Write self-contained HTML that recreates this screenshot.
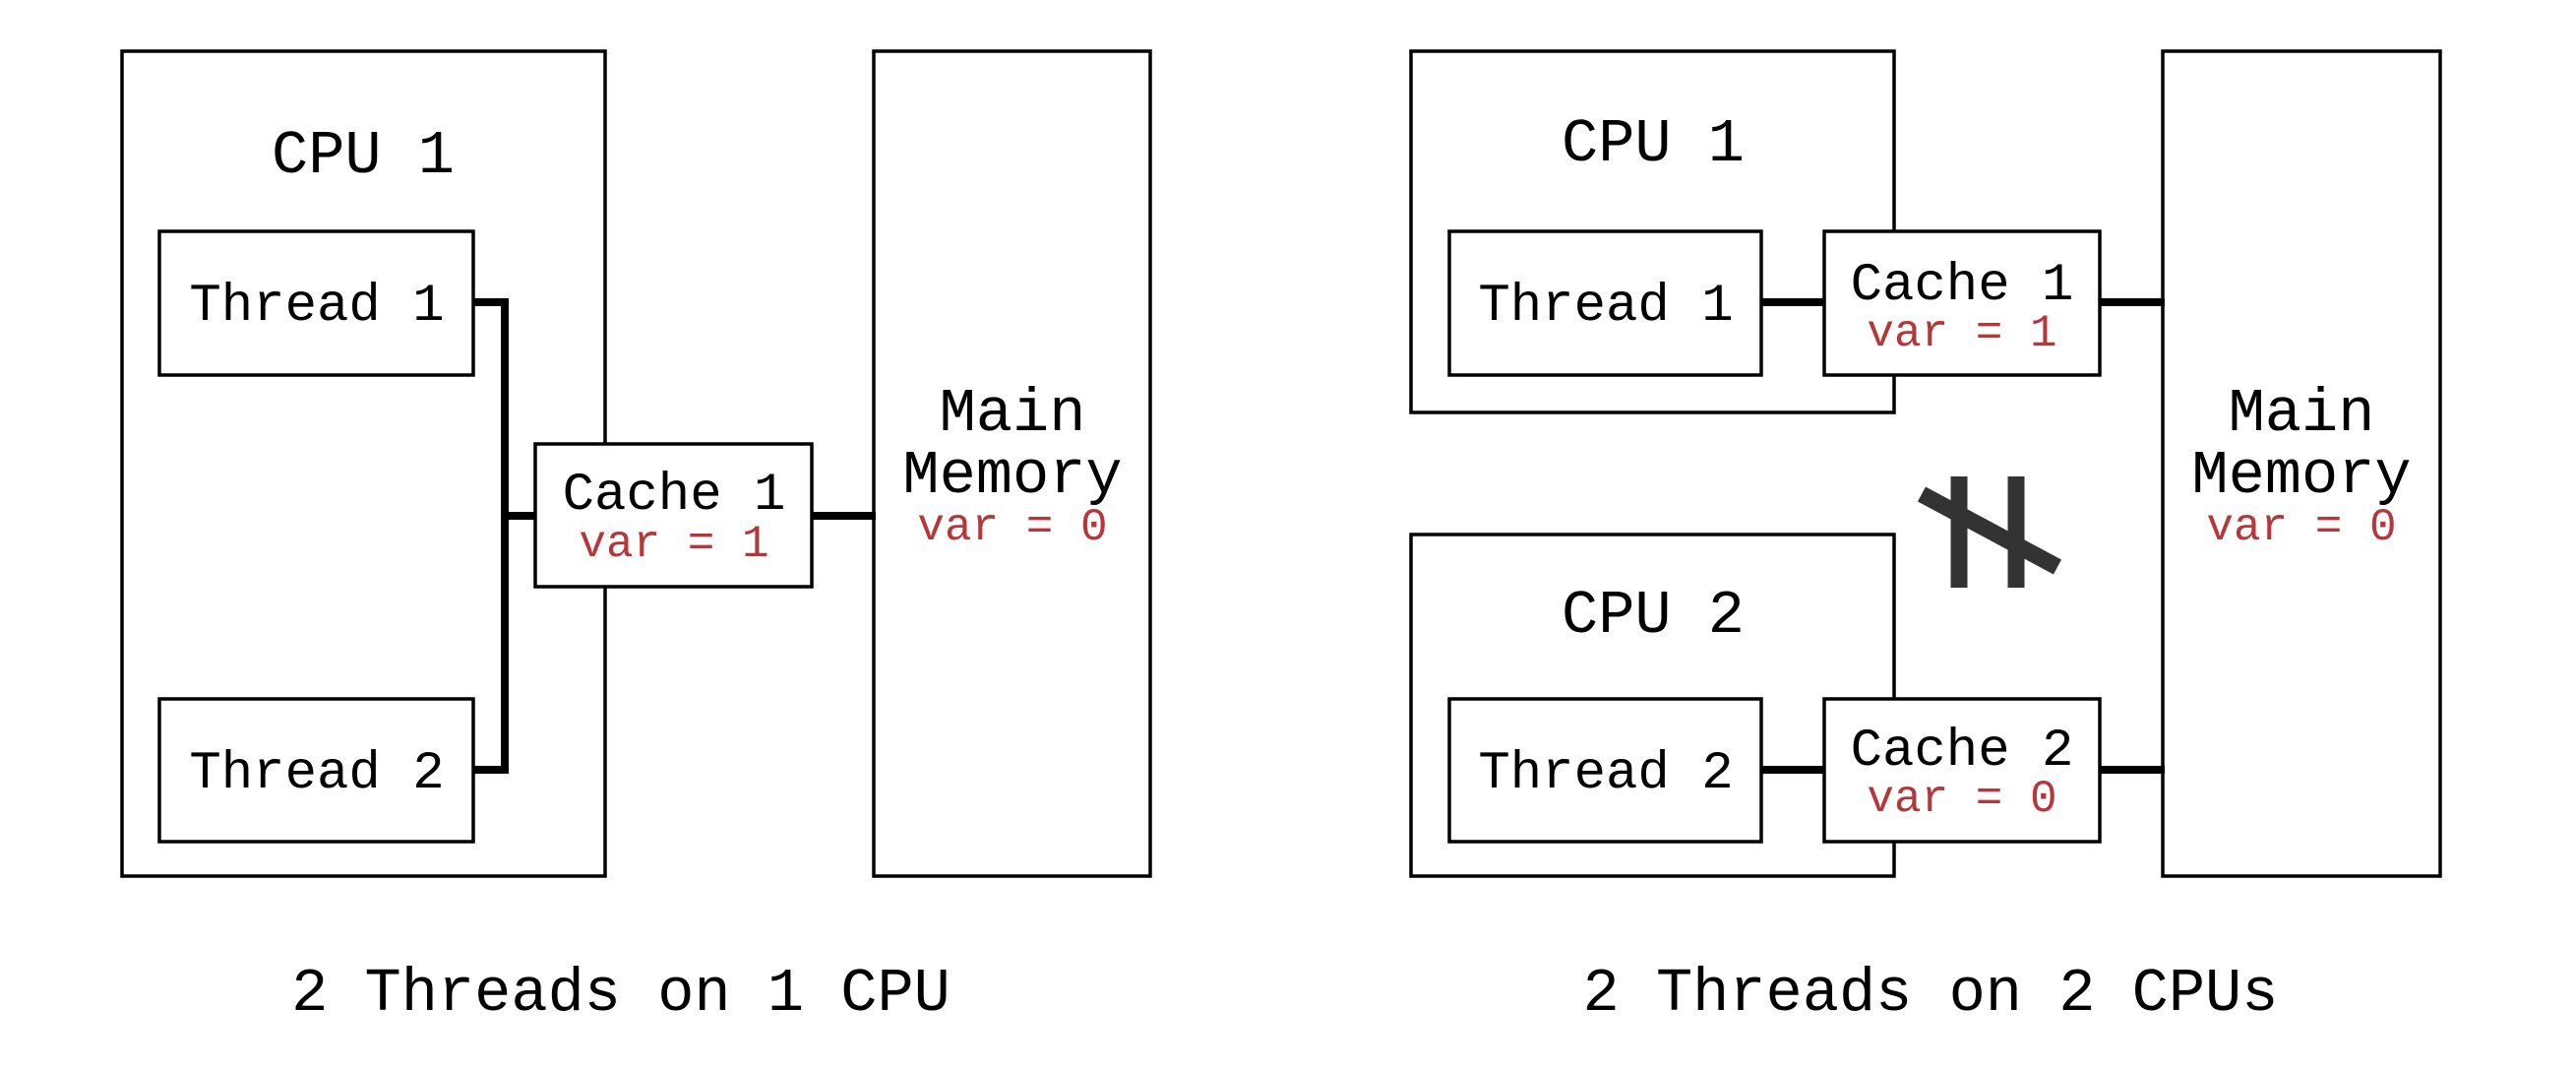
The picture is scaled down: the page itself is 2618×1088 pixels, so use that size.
<!DOCTYPE html>
<html><head><meta charset="utf-8"><style>html,body{margin:0;padding:0;background:#fff}svg{display:block}</style></head>
<body>
<svg width="2618" height="1088" viewBox="0 0 2618 1088" xmlns="http://www.w3.org/2000/svg" font-family="'Liberation Mono', monospace" text-anchor="middle">
<rect width="2618" height="1088" fill="#fff"/>
<g fill="none" stroke="#000" stroke-width="3.5">
<rect x="124" y="52" width="491" height="838" fill="#fff"/>
<rect x="162" y="235" width="319" height="146"/>
<rect x="162" y="710" width="319" height="145"/>
<rect x="888" y="52" width="281" height="838"/>
<rect x="1434" y="52" width="491" height="367" fill="#fff"/>
<rect x="1434" y="543" width="491" height="347" fill="#fff"/>
<rect x="1473" y="235" width="317" height="146"/>
<rect x="1473" y="710" width="317" height="145"/>
<rect x="2198" y="52" width="282" height="838"/>
</g>
<g fill="none" stroke="#000" stroke-width="8">
<polyline points="481,307 513,307 513,782 481,782"/>
<line x1="513" y1="524" x2="546" y2="524"/>
<line x1="825" y1="524" x2="890" y2="524"/>
<line x1="1790" y1="307" x2="1856" y2="307"/>
<line x1="2134" y1="307" x2="2200" y2="307"/>
<line x1="1790" y1="782" x2="1856" y2="782"/>
<line x1="2134" y1="782" x2="2200" y2="782"/>
</g>
<g fill="#fff" stroke="#000" stroke-width="3.5">
<rect x="544" y="451" width="281" height="145"/>
<rect x="1854" y="235" width="280" height="146"/>
<rect x="1854" y="710" width="280" height="145"/>
</g>
<g stroke="#333" stroke-width="17">
<line x1="1991" y1="484" x2="1991" y2="597"/>
<line x1="2049" y1="484" x2="2049" y2="597"/>
<line x1="1953" y1="502" x2="2091" y2="576"/>
</g>
<g fill="#000" font-size="62">
<text x="369" y="175">CPU 1</text>
<text x="1680" y="163">CPU 1</text>
<text x="1680" y="642">CPU 2</text>
<text x="1029" y="437">Main</text>
<text x="1029" y="500">Memory</text>
<text x="2339" y="437">Main</text>
<text x="2339" y="500">Memory</text>
<text x="631" y="1026">2 Threads on 1 CPU</text>
<text x="1962" y="1026">2 Threads on 2 CPUs</text>
</g>
<g fill="#000" font-size="54">
<text x="322" y="325">Thread 1</text>
<text x="322" y="800">Thread 2</text>
<text x="1632" y="325">Thread 1</text>
<text x="1632" y="800">Thread 2</text>
<text x="685" y="517">Cache 1</text>
<text x="1994" y="304">Cache 1</text>
<text x="1994" y="777">Cache 2</text>
</g>
<g fill="#b5373a" font-size="46">
<text x="685" y="565">var = 1</text>
<text x="1994" y="351">var = 1</text>
<text x="1994" y="824">var = 0</text>
<text x="1029" y="548">var = 0</text>
<text x="2339" y="548">var = 0</text>
</g>
</svg>
</body></html>
